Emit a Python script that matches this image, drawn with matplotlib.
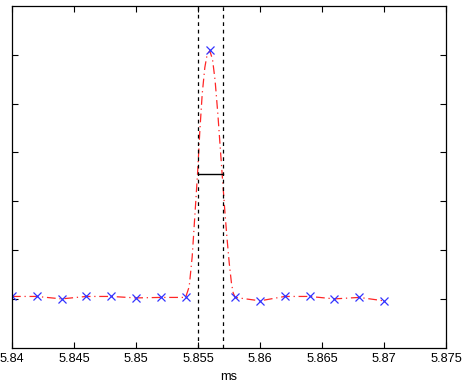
import matplotlib
matplotlib.use("Agg")
import matplotlib.pyplot as plt
from matplotlib.ticker import FuncFormatter

# Sample points (blue crosses)
t_samples = [5.840, 5.842, 5.844, 5.846, 5.848, 5.850, 5.852, 5.854,
             5.856, 5.858, 5.860, 5.862, 5.864, 5.866, 5.868, 5.870]
v_samples = [0.05, 0.05, 0.0, 0.05, 0.05, 0.02, 0.03, 0.03,
             5.10, 0.03, -0.04, 0.05, 0.05, 0.0, 0.03, -0.04]

# Red interpolated curve
t_curve = [5.840, 5.842, 5.844, 5.846, 5.848, 5.850, 5.852, 5.854,
           5.85429, 5.85453, 5.85474, 5.85496, 5.85515, 5.85534, 5.85555,
           5.85574, 5.85595, 5.85617, 5.85638, 5.85660, 5.85679, 5.85695,
           5.85714, 5.85733, 5.85752, 5.85770, 5.85784, 5.858,
           5.860, 5.862, 5.864, 5.866, 5.868, 5.870]
v_curve = [0.05, 0.05, 0.0, 0.05, 0.05, 0.02, 0.03, 0.03,
           0.25, 0.86, 1.68, 2.55, 3.45, 4.20, 4.74,
           5.01, 5.08, 4.91, 4.47, 3.79, 3.11, 2.55,
           1.88, 1.27, 0.73, 0.32, 0.12, 0.03,
           -0.04, 0.05, 0.05, 0.0, 0.03, -0.04]

# FWHM markers
fwhm_left = 5.855
fwhm_right = 5.857
half_max = 2.55

xticks = [5.84, 5.845, 5.85, 5.855, 5.86, 5.865, 5.87, 5.875]
yticks = [0, 1, 2, 3, 4, 5]

plt.rcParams['font.family'] = ['Liberation Sans', 'DejaVu Sans']

fig = plt.figure(figsize=(4.67, 3.86), dpi=100)
ax = fig.add_axes([12 / 467, 38.3 / 386, 434 / 467, 341.7 / 386])

ax.plot(t_curve, v_curve, color='red', linestyle=(0, (7, 3, 1, 3)),
        linewidth=0.9, alpha=0.85)
ax.plot(t_samples, v_samples, linestyle='none', marker='x', color='#3333ff',
        markersize=5.5, markeredgewidth=0.9)

ax.axvline(fwhm_left, color='black', linestyle=(0, (3, 3)), linewidth=0.9)
ax.axvline(fwhm_right, color='black', linestyle=(0, (3, 3)), linewidth=0.9)
ax.plot([fwhm_left, fwhm_right], [half_max, half_max], color='black',
        linewidth=1.0)

ax.set_xlim(5.84, 5.875)
ax.set_ylim(-1, 6)
ax.set_xticks(xticks)
ax.xaxis.set_major_formatter(FuncFormatter(lambda v, p: '%g' % round(v, 4)))
ax.set_yticks(yticks)
ax.set_yticklabels([])
ax.tick_params(direction='in', top=True, right=True, length=4.5, width=0.8,
               labelsize=9.2, pad=4)
for s in ax.spines.values():
    s.set_linewidth(0.9)
ax.set_xlabel('ms', fontsize=9.2, labelpad=4)

fig.savefig('out.png', dpi=100)
